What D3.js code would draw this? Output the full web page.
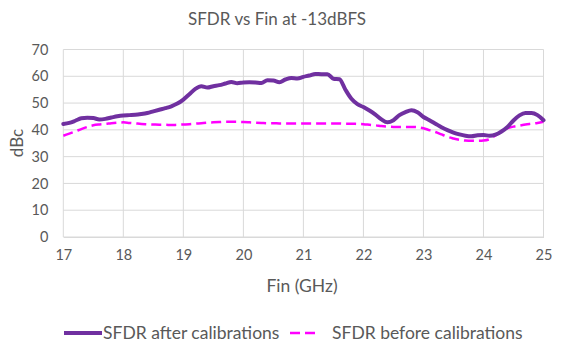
<!DOCTYPE html>
<html>
<head>
<meta charset="utf-8">
<script src="https://cdn.jsdelivr.net/npm/d3@7"></script>
<style>
  html, body { margin: 0; padding: 0; background: #fff; }
  svg { display: block; }
  text { font-family: Lato, "Open Sans", sans-serif; fill: #595959; }
</style>
</head>
<body>
<svg id="chart" width="576" height="349"></svg>
<script>
const title = "SFDR vs Fin at -13dBFS";
const xLabel = "Fin (GHz)";
const yLabel = "dBc";
const seriesNames = ["SFDR after calibrations", "SFDR before calibrations"];
const xTicks = [17, 18, 19, 20, 21, 22, 23, 24, 25];
const yTicks = [0, 10, 20, 30, 40, 50, 60, 70];

const freq = [
  17.0,17.1,17.2,17.3,17.4,17.5,17.6,17.7,17.8,17.9,
  18.0,18.1,18.2,18.3,18.4,18.5,18.6,18.7,18.8,18.9,
  19.0,19.1,19.2,19.3,19.4,19.5,19.6,19.7,19.8,19.9,
  20.0,20.1,20.2,20.3,20.4,20.5,20.6,20.7,20.8,20.9,
  21.0,21.1,21.2,21.3,21.4,21.5,21.6,21.7,21.8,21.9,
  22.0,22.1,22.2,22.3,22.4,22.5,22.6,22.7,22.8,22.9,
  23.0,23.1,23.2,23.3,23.4,23.5,23.6,23.7,23.8,23.9,
  24.0,24.1,24.2,24.3,24.4,24.5,24.6,24.7,24.8,24.9,
  25.0
];

const sfdrAfter = [
  42.2,42.6,43.4,44.3,44.5,44.4,43.9,44.1,44.6,45.1,
  45.4,45.5,45.6,45.9,46.3,46.9,47.5,48.1,48.8,49.8,
  51.3,53.3,55.3,56.3,55.8,56.3,56.7,57.3,57.9,57.4,
  57.7,57.8,57.7,57.5,58.5,58.4,57.8,58.8,59.4,59.2,
  59.8,60.3,60.9,60.8,60.8,59.1,58.9,55.0,51.6,49.6,
  48.5,47.2,45.7,43.9,42.8,43.6,45.5,46.6,47.3,46.6,
  44.8,43.6,42.3,41.0,39.9,39.0,38.3,37.8,37.6,38.0,
  38.1,37.8,38.2,39.4,41.1,43.5,45.4,46.3,46.3,45.5,
  43.6
];

const sfdrBefore = [
  37.8,38.6,39.4,40.3,41.1,41.7,42.0,42.2,42.5,42.7,
  42.8,42.6,42.4,42.2,42.1,42.0,41.9,41.9,41.8,41.9,
  42.0,42.1,42.3,42.5,42.7,42.8,42.9,43.0,43.0,43.0,
  42.9,42.8,42.7,42.6,42.5,42.5,42.4,42.4,42.4,42.4,
  42.4,42.4,42.4,42.4,42.4,42.4,42.4,42.3,42.3,42.2,
  42.1,41.9,41.7,41.4,41.2,41.1,41.1,41.1,41.1,41.0,
  40.6,39.9,39.2,38.3,37.4,36.8,36.3,36.0,35.9,35.9,
  36.0,36.5,37.9,39.3,40.6,41.2,41.6,42.0,42.3,42.6,
  43.0
];

const svg = d3.select("#chart");
const plot = { left: 63.3, right: 543.5, top: 49.5, bottom: 237 };

const x = d3.scaleLinear().domain([17, 25]).range([plot.left, plot.right]);
const y = d3.scaleLinear().domain([0, 70]).range([plot.bottom, plot.top]);

// grid
const grid = svg.append("g");
grid.selectAll("line.h").data(yTicks).join("line")
  .attr("x1", plot.left).attr("x2", plot.right)
  .attr("y1", d => y(d)).attr("y2", d => y(d))
  .attr("stroke", "#D9D9D9").attr("stroke-width", 1);
grid.selectAll("line.v").data(xTicks).join("line")
  .attr("y1", plot.top).attr("y2", plot.bottom)
  .attr("x1", d => x(d)).attr("x2", d => x(d))
  .attr("stroke", "#D9D9D9").attr("stroke-width", 1);

// axes via d3 axis generators, styled like Excel
const yAxis = svg.append("g").attr("transform", `translate(${plot.left},0)`)
  .call(d3.axisLeft(y).tickValues(yTicks).tickSize(0).tickPadding(15));
yAxis.select(".domain").remove();
yAxis.selectAll("text").style("font-size", "14.5px").attr("fill", "#595959")
  .style("font-family", "Lato, 'Open Sans', sans-serif");

const xAxis = svg.append("g").attr("transform", `translate(0,${plot.bottom})`)
  .call(d3.axisBottom(x).tickValues(xTicks).tickSize(0).tickPadding(13).tickFormat(d3.format("d")));
xAxis.select(".domain").attr("stroke", "#D9D9D9");
xAxis.selectAll("text").style("font-size", "14.5px").attr("fill", "#595959")
  .style("font-family", "Lato, 'Open Sans', sans-serif");

// lines
const rowsAfter = freq.map((f, i) => [f, sfdrAfter[i]]);
const rowsBefore = freq.map((f, i) => [f, sfdrBefore[i]]);
const line = d3.line().x(d => x(d[0])).y(d => y(d[1])).curve(d3.curveMonotoneX);

svg.append("path").datum(rowsBefore)
  .attr("d", line).attr("fill", "none")
  .attr("stroke", "#FF00FF").attr("stroke-width", 2.5)
  .attr("stroke-dasharray", "10,5");

svg.append("path").datum(rowsAfter)
  .attr("d", line).attr("fill", "none")
  .attr("stroke", "#7030A0").attr("stroke-width", 4)
  .attr("stroke-linejoin", "round").attr("stroke-linecap", "round");

// title & axis titles
svg.append("text").attr("x", 277).attr("y", 25).attr("text-anchor", "middle")
  .style("font-size", "17px").text(title);
svg.append("text").attr("x", 302).attr("y", 292).attr("text-anchor", "middle")
  .style("font-size", "17.5px").text(xLabel);
svg.append("text").attr("transform", "translate(23,143) rotate(-90)")
  .attr("text-anchor", "middle").style("font-size", "17px").text(yLabel);

// legend
const lg = svg.append("g");
lg.append("line").attr("x1", 64).attr("x2", 102).attr("y1", 333).attr("y2", 333)
  .attr("stroke", "#7030A0").attr("stroke-width", 4);
lg.append("text").attr("x", 103).attr("y", 339).style("font-size", "17.5px").text(seriesNames[0]);
lg.append("line").attr("x1", 290).attr("x2", 318).attr("y1", 333).attr("y2", 333)
  .attr("stroke", "#FF00FF").attr("stroke-width", 2.5).attr("stroke-dasharray", "10,5");
lg.append("text").attr("x", 332).attr("y", 339).style("font-size", "17.5px").text(seriesNames[1]);
</script>
</body>
</html>
